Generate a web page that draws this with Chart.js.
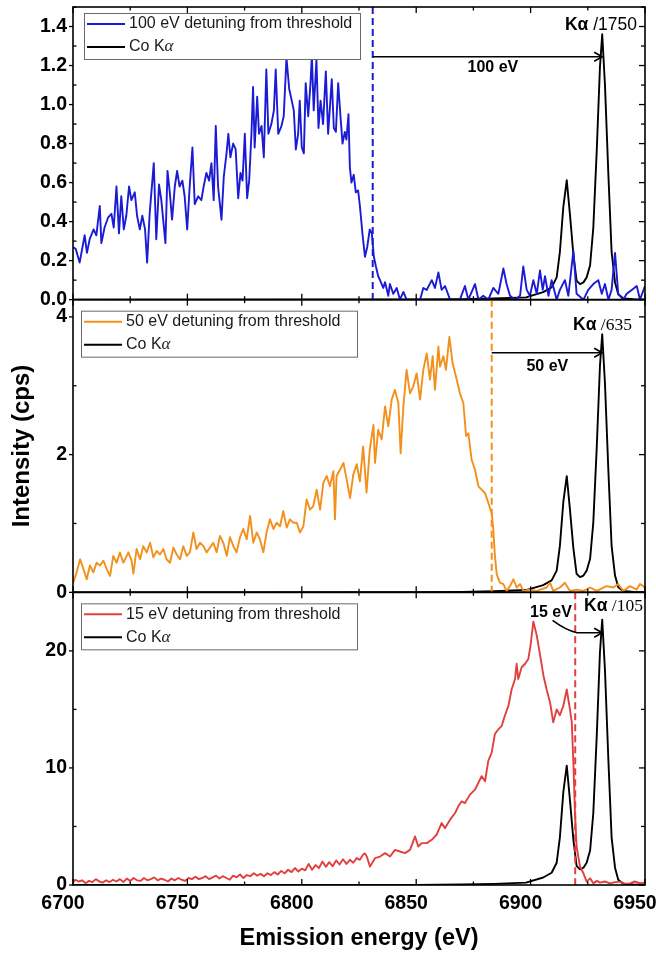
<!DOCTYPE html>
<html>
<head>
<meta charset="utf-8">
<script src="https://cdn.jsdelivr.net/npm/chart.js@4.4.1/dist/chart.umd.min.js"></script>
<style>
  html, body { margin: 0; padding: 0; background: #fff; }
</style>
</head>
<body>
<canvas id="chart" width="656" height="954"></canvas>
<script>
// [emission energy (eV), intensity (cps)]
const blue100 = [
  [6700.0,0.27],[6701.2,0.26],[6702.9,0.19],[6705.1,0.33],[6706.1,0.24],[6707.3,0.31],[6709.0,0.36],[6710.2,0.33],
  [6711.7,0.48],[6712.4,0.29],[6713.8,0.37],[6715.3,0.42],[6716.8,0.44],[6717.8,0.37],[6719.0,0.58],[6720.1,0.34],
  [6721.1,0.53],[6722.2,0.36],[6723.3,0.43],[6724.5,0.58],[6725.5,0.51],[6727.0,0.55],[6728.0,0.43],[6729.2,0.36],
  [6730.3,0.43],[6731.5,0.36],[6732.4,0.19],[6733.5,0.44],[6735.3,0.70],[6736.4,0.31],[6737.6,0.59],[6738.6,0.51],
  [6740.4,0.29],[6741.3,0.66],[6742.3,0.55],[6743.3,0.41],[6744.5,0.58],[6745.5,0.66],[6746.6,0.58],[6747.8,0.61],
  [6748.8,0.53],[6749.9,0.36],[6751.0,0.58],[6752.2,0.78],[6753.2,0.49],[6754.7,0.53],[6756.1,0.51],[6757.1,0.58],
  [6758.3,0.65],[6759.5,0.61],[6760.5,0.70],[6761.5,0.51],[6762.4,0.89],[6763.4,0.58],[6764.9,0.41],[6765.9,0.63],
  [6767.1,0.75],[6767.9,0.85],[6768.8,0.73],[6770.0,0.80],[6771.1,0.77],[6772.2,0.52],[6773.2,0.65],[6774.1,0.61],
  [6775.1,0.85],[6776.1,0.52],[6777.0,0.61],[6778.0,0.85],[6778.7,1.09],[6779.4,0.78],[6780.5,1.04],[6781.3,0.85],
  [6782.4,0.89],[6783.4,0.73],[6784.5,1.18],[6785.4,0.85],[6786.7,0.90],[6787.8,0.97],[6788.6,1.18],[6789.7,0.85],
  [6791.1,0.89],[6792.1,0.94],[6793.3,1.24],[6794.5,1.08],[6795.6,1.02],[6796.5,0.97],[6797.4,0.77],[6798.4,0.85],
  [6799.1,1.02],[6800.0,0.78],[6800.9,0.75],[6801.7,1.11],[6802.8,0.94],[6803.8,1.11],[6804.4,1.25],[6805.2,0.97],
  [6806.4,1.23],[6807.3,0.88],[6808.2,1.02],[6809.3,0.90],[6810.5,1.17],[6811.5,0.85],[6812.2,0.97],[6813.1,1.13],
  [6814.0,0.88],[6814.9,0.86],[6815.9,1.11],[6816.9,0.94],[6817.8,0.80],[6818.8,0.86],[6819.5,0.82],[6820.4,0.95],
  [6821.0,0.68],[6821.7,0.60],[6822.7,0.64],[6823.6,0.55],[6824.6,0.56],[6825.4,0.48],[6826.5,0.34],[6827.6,0.22],
  [6828.6,0.27],[6829.7,0.36],[6830.6,0.34],[6831.5,0.22],[6832.4,0.17],[6833.4,0.12],[6834.2,0.10],[6835.6,0.06],
  [6836.4,0.09],[6837.8,0.02],[6838.5,0.08],[6840.0,0.03],[6841.5,0.06],[6842.9,0.00],[6844.4,0.04],[6845.8,0.00],
  [6851.7,0.00],[6853.1,0.06],[6854.6,0.05],[6856.8,0.10],[6858.2,0.06],[6859.7,0.14],[6861.1,0.05],[6862.6,0.07],
  [6864.8,0.00],[6869.1,0.00],[6871.3,0.07],[6872.8,0.00],[6875.7,0.08],[6877.2,0.00],[6879.3,0.02],[6881.5,0.00],
  [6883.7,0.06],[6885.9,0.03],[6888.1,0.16],[6889.5,0.08],[6891.0,0.02],[6893.2,0.00],[6895.4,0.02],[6896.8,0.17],
  [6898.3,0.05],[6899.7,0.02],[6901.2,0.10],[6902.7,0.03],[6904.1,0.15],[6905.3,0.05],[6906.3,0.12],[6907.8,0.02],
  [6909.2,0.10],[6911.4,0.00],[6912.8,0.05],[6915.0,0.10],[6916.5,0.02],[6918.7,0.25],[6920.1,0.03],[6923.1,0.00],
  [6925.2,0.05],[6927.4,0.08],[6929.6,0.10],[6931.1,0.03],[6932.5,0.08],[6934.0,0.00],[6935.4,0.05],[6936.9,0.24],
  [6938.3,0.03],[6940.5,0.00],[6942.0,0.03],[6944.2,0.05],[6946.4,0.07],[6947.8,0.00],[6950.0,0.07]
];

const orange50 = [
  [6700.1,0.14],[6701.6,0.29],[6703.1,0.48],[6704.5,0.34],[6706.0,0.19],[6707.4,0.39],[6708.9,0.29],[6710.3,0.43],
  [6711.8,0.39],[6713.3,0.46],[6714.7,0.34],[6716.2,0.24],[6717.6,0.53],[6719.1,0.43],[6720.5,0.58],[6722.0,0.43],
  [6724.2,0.58],[6725.6,0.46],[6726.4,0.27],[6727.8,0.63],[6729.3,0.48],[6730.7,0.67],[6732.2,0.58],[6733.7,0.72],
  [6735.1,0.51],[6736.6,0.60],[6738.0,0.55],[6739.5,0.63],[6740.9,0.48],[6742.4,0.43],[6743.9,0.65],[6745.3,0.55],
  [6746.8,0.48],[6748.2,0.67],[6749.7,0.53],[6751.1,0.58],[6752.6,0.87],[6754.0,0.63],[6755.5,0.72],[6757.0,0.67],
  [6758.4,0.58],[6759.9,0.65],[6761.3,0.72],[6762.8,0.58],[6764.2,0.82],[6765.7,0.72],[6767.2,0.53],[6768.6,0.80],
  [6770.1,0.67],[6771.5,0.58],[6773.0,0.80],[6774.4,0.92],[6775.9,0.77],[6777.4,1.11],[6778.8,0.72],[6780.3,0.87],
  [6781.7,0.77],[6783.2,0.58],[6784.6,0.87],[6786.1,1.06],[6787.6,0.92],[6789.0,1.01],[6790.5,0.96],[6791.9,1.18],
  [6793.4,0.94],[6794.8,1.06],[6796.3,1.01],[6797.8,1.01],[6799.2,0.87],[6800.7,0.96],[6802.1,1.35],[6803.6,1.20],
  [6805.0,1.25],[6806.5,1.49],[6808.0,1.20],[6809.4,1.59],[6810.9,1.69],[6812.3,1.54],[6813.8,1.76],[6814.5,1.06],
  [6815.2,1.69],[6816.7,1.78],[6818.2,1.88],[6819.6,1.64],[6821.1,1.37],[6822.5,1.71],[6824.0,1.86],[6825.4,1.61],
  [6826.8,2.12],[6828.3,1.45],[6829.7,2.07],[6831.3,2.43],[6832.0,1.88],[6833.4,2.36],[6834.9,2.22],[6836.4,2.70],
  [6837.8,2.41],[6839.3,2.80],[6840.7,2.94],[6842.2,2.75],[6843.2,2.02],[6844.4,2.70],[6845.8,3.23],[6847.3,2.89],
  [6848.7,2.99],[6850.2,3.18],[6851.7,2.80],[6853.1,3.23],[6854.6,3.47],[6856.0,3.09],[6857.2,3.43],[6858.2,2.94],
  [6859.7,3.57],[6860.4,3.28],[6861.9,3.43],[6863.0,3.23],[6864.5,3.71],[6865.9,3.33],[6867.7,3.09],[6869.1,2.89],
  [6870.6,2.75],[6871.8,2.27],[6872.8,2.31],[6874.2,1.93],[6875.7,1.78],[6877.2,1.54],[6878.6,1.49],[6880.1,1.44],
  [6881.5,1.30],[6883.0,1.15],[6883.7,0.91],[6884.4,0.53],[6885.2,0.26],[6886.6,0.14],[6888.1,0.12],[6889.5,0.02],
  [6891.0,0.09],[6892.5,0.19],[6893.9,0.07],[6895.4,0.12],[6896.8,0.02],[6899.7,0.04],[6902.7,0.02],[6907.0,0.07],
  [6908.5,0.14],[6909.9,0.02],[6912.8,0.07],[6915.0,0.14],[6917.2,0.02],[6920.1,0.04],[6923.1,0.02],[6926.0,0.07],
  [6928.9,0.02],[6933.2,0.09],[6936.2,0.07],[6938.3,0.12],[6940.5,0.02],[6943.4,0.09],[6946.4,0.04],[6947.8,0.12],
  [6950.0,0.07]
];

const red15 = [
  [6700.0,0.20],[6701.0,0.45],[6702.5,0.30],[6704.0,0.40],[6705.5,0.15],[6707.0,0.35],[6708.5,0.25],[6710.0,0.50],
  [6711.5,0.30],[6713.0,0.20],[6714.5,0.40],[6716.0,0.25],[6717.5,0.45],[6719.0,0.30],[6720.5,0.50],[6722.0,0.25],
  [6723.5,0.55],[6725.0,0.35],[6726.5,0.60],[6728.0,0.40],[6729.5,0.35],[6731.0,0.60],[6732.5,0.40],[6734.0,0.50],
  [6735.5,0.65],[6737.0,0.40],[6738.5,0.55],[6740.0,0.45],[6741.5,0.30],[6743.0,0.55],[6744.5,0.40],[6746.0,0.60],
  [6747.5,0.45],[6749.0,0.35],[6750.5,0.60],[6752.0,0.50],[6753.5,0.70],[6755.0,0.50],[6756.5,0.60],[6758.0,0.75],
  [6759.5,0.50],[6761.0,0.65],[6762.5,0.80],[6764.0,0.55],[6765.5,0.75],[6767.0,0.60],[6768.5,0.45],[6770.0,0.80],
  [6771.5,0.65],[6773.0,0.90],[6774.5,0.60],[6776.0,0.85],[6777.5,0.75],[6779.0,1.00],[6780.5,0.80],[6782.0,0.95],
  [6783.5,0.75],[6785.0,1.00],[6786.5,0.85],[6788.0,1.10],[6789.5,0.90],[6791.0,1.20],[6792.5,1.00],[6794.0,1.30],
  [6795.5,1.10],[6797.0,1.45],[6798.5,1.15],[6800.0,1.40],[6801.5,1.25],[6803.0,1.80],[6804.5,1.30],[6806.0,1.70],
  [6807.5,1.45],[6809.0,2.00],[6810.5,1.55],[6812.0,1.95],[6813.5,1.60],[6815.0,2.10],[6816.5,1.75],[6818.0,2.20],
  [6819.5,1.80],[6821.0,2.15],[6822.5,1.90],[6824.0,2.30],[6825.4,2.15],[6826.8,2.60],[6827.6,2.70],[6828.4,2.43],
  [6829.8,1.57],[6832.0,2.29],[6834.2,2.43],[6836.4,2.72],[6838.6,2.43],[6840.7,3.00],[6842.9,2.86],[6845.1,2.72],
  [6847.3,3.00],[6849.5,4.15],[6850.9,3.29],[6852.4,3.58],[6854.6,3.58],[6856.8,3.86],[6858.9,4.29],[6861.1,5.29],
  [6862.6,4.86],[6864.8,5.58],[6867.0,6.15],[6868.4,6.72],[6869.9,7.15],[6871.3,7.00],[6873.5,7.72],[6875.7,8.15],
  [6877.2,8.73],[6878.6,9.30],[6880.1,8.87],[6881.5,10.6],[6883.0,11.3],[6884.4,12.9],[6885.9,13.3],[6887.4,13.6],
  [6888.8,14.5],[6890.3,15.3],[6891.7,16.7],[6893.2,17.6],[6893.9,18.9],[6894.6,17.6],[6896.1,18.6],[6897.6,18.9],
  [6899.0,19.3],[6900.0,20.5],[6901.2,22.5],[6902.7,21.3],[6904.1,19.7],[6905.6,17.9],[6907.0,16.7],[6908.5,15.6],
  [6909.9,13.9],[6911.4,15.0],[6912.8,14.5],[6914.3,15.3],[6915.8,16.7],[6917.2,15.0],[6918.0,13.9],[6918.7,10.4],
  [6919.4,6.15],[6920.1,3.29],[6921.6,1.57],[6923.1,1.00],[6924.5,0.29],[6926.0,0.57],[6927.4,0.14],[6929.0,0.35],
  [6930.3,0.20],[6932.5,0.30],[6934.7,0.14],[6937.0,0.25],[6939.1,0.29],[6941.2,0.12],[6943.4,0.14],[6945.5,0.30],
  [6947.7,0.15],[6950.0,0.20]
];

// Co K-alpha reference spectrum (cps), shown divided by kaDivisor in each panel
const coKalpha = [
  [6700,0],[6850,1],[6870,4],[6884,10],[6898,21],[6905.5,67],[6909.2,110],[6911.4,200],[6912.8,428],
  [6914.3,833],[6915.8,1071],[6917.2,762],[6918.7,405],[6920.1,171],[6921.6,140],[6923.1,155],[6924.5,200],
  [6926.0,309],[6927.4,643],[6928.9,1333],[6930.3,2083],[6931.3,2380],[6932.5,1928],[6934.0,1119],[6935.4,428],
  [6936.9,155],[6938.3,48],[6940.5,12],[6945,4],[6950,2]
];

const spectra = [blue100, orange50, red15];
const seriesLabels = ['100 eV detuning from threshold', '50 eV detuning from threshold', '15 eV detuning from threshold'];
const kaDivisor = [1750, 635, 105];
const thresholdEnergy = [6831, 6883, 6919.5];
const gapLabels = ['100 eV', '50 eV', '15 eV'];
const kaPeakEnergy = 6931.3;

const SANS = '"Liberation Sans", Arial, sans-serif';
const SERIF = '"Liberation Serif", "Times New Roman", serif';

// per panel look: axis id, colour, y range, label anchors (data units)
const panelStyle = [
  { axis: 'y1', color: '#1b1bd6', max: 1.5, major: 0.2, minor: 0.1, digits: 1,
    legend: [11, 6], kaFont: SANS, kaAt: [6946.5, 1.405], gapAt: [6883.5, 1.19],
    arrow: [[6831, 1.245], [kaPeakEnergy, 1.245]] },
  { axis: 'y2', color: '#f3901b', max: 4.25, major: 2, minor: 1, digits: 0,
    legend: [8, 11], kaFont: SERIF, kaAt: [6944.3, 3.88], gapAt: [6907.3, 3.28],
    arrow: [[6883, 3.48], [kaPeakEnergy, 3.48]] },
  { axis: 'y3', color: '#e2403f', max: 25, major: 10, minor: 5, digits: 0,
    legend: [8, 11], kaFont: SERIF, kaAt: [6949.1, 23.8], gapAt: [6908.9, 23.3],
    arrow: [[6909.6, 22.6], [6920.3, 21.55], [kaPeakEnergy, 21.55]] }
];

const datasets = [];
panelStyle.forEach((p, i) => {
  datasets.push({
    label: seriesLabels[i],
    data: spectra[i].map(d => ({ x: d[0], y: d[1] })),
    yAxisID: p.axis, borderColor: p.color, borderWidth: 1.9
  });
  datasets.push({
    label: 'Co K\u03b1',
    data: coKalpha.map(d => ({ x: d[0], y: d[1] / kaDivisor[i] })),
    yAxisID: p.axis, borderColor: '#000', borderWidth: 1.9
  });
});

const scales = {
  x: {
    type: 'linear', position: 'bottom', min: 6700, max: 6950,
    grid: { display: false, drawTicks: false },
    border: { display: false },
    ticks: {
      stepSize: 50, autoSkip: false, padding: 6.5, labelOffset: -10, maxRotation: 0,
      color: '#000', font: { family: SANS, size: 19.5, weight: 'bold' },
      callback: v => String(v)
    },
    title: {
      display: true, text: 'Emission energy (eV)', color: '#000',
      font: { family: SANS, size: 23.5, weight: 'bold' }, padding: { top: 0, bottom: 1.3 }
    },
    afterFit: s => { s.height = 69; s.paddingLeft = 0; s.paddingRight = 0; }
  }
};
// left axes of one stack; the last one listed sits at the top
[2, 1, 0].forEach(i => {
  const p = panelStyle[i];
  scales[p.axis] = {
    type: 'linear', position: 'left', stack: 'panels', stackWeight: 1,
    min: 0, max: p.max,
    grid: { display: false, drawTicks: false },
    border: { display: false },
    ticks: {
      stepSize: p.major, includeBounds: false, autoSkip: false, padding: 6,
      color: '#000', font: { family: SANS, size: 19.5, weight: 'bold' },
      callback: v => Number(v).toFixed(p.digits)
    },
    title: {
      display: i === 1, text: 'Intensity (cps)', color: '#000',
      font: { family: SANS, size: 24, weight: 'bold' }, padding: { top: 8, bottom: 0 }
    },
    afterFit: s => { s.width = 73; s.paddingTop = 0; s.paddingBottom = 0; }
  };
});

function line(ctx, x1, y1, x2, y2) {
  ctx.beginPath(); ctx.moveTo(x1, y1); ctx.lineTo(x2, y2); ctx.stroke();
}

function arrowHead(ctx, x, y) {
  ctx.beginPath();
  ctx.moveTo(x - 8, y - 4.5); ctx.lineTo(x, y); ctx.lineTo(x - 8, y + 4.5);
  ctx.stroke();
}

const panelDecor = {
  id: 'panelDecor',
  afterDatasetsDraw(chart) {
    const ctx = chart.ctx, xs = chart.scales.x;
    const L = xs.left, R = xs.right;
    ctx.save();
    panelStyle.forEach((p, i) => {
      const ys = chart.scales[p.axis];
      const T = ys.top, B = ys.bottom;
      const px = v => xs.getPixelForValue(v), py = v => ys.getPixelForValue(v);

      // threshold marker
      ctx.strokeStyle = p.color; ctx.lineWidth = 2; ctx.setLineDash([7, 4]);
      line(ctx, px(thresholdEnergy[i]), T, px(thresholdEnergy[i]), B);
      ctx.setLineDash([]);

      // frame and ticks
      ctx.strokeStyle = '#000'; ctx.lineWidth = 1.6;
      ctx.strokeRect(L, T, R - L, B - T);
      ctx.lineWidth = 1.3;
      for (let e = 6700; e <= 6950; e += 25) {
        const len = e % 50 === 0 ? 6 : 3.5;
        line(ctx, px(e), B, px(e), B - len);
        line(ctx, px(e), T, px(e), T + len);
      }
      const steps = Math.round(p.max / p.minor);
      const ratio = Math.round(p.major / p.minor);
      for (let k = 0; k <= steps; k++) {
        const y = py(k * p.minor);
        if (k % ratio === 0) {
          line(ctx, L, y, L - 4, y);
          line(ctx, R, y, R - 6, y);
        } else {
          line(ctx, L, y, L + 3.5, y);
          line(ctx, R, y, R - 4, y);
        }
      }

      // arrow from threshold to the K-alpha1 line
      ctx.lineWidth = 1.6;
      const pts = p.arrow.map(a => [px(a[0]), py(a[1])]);
      ctx.beginPath();
      ctx.moveTo(pts[0][0], pts[0][1]);
      if (pts.length === 3) {
        ctx.quadraticCurveTo(pts[0][0] + 14, pts[1][1] - 2, pts[1][0], pts[1][1]);
      }
      ctx.lineTo(pts[pts.length - 1][0], pts[pts.length - 1][1]);
      ctx.stroke();
      const tip = pts[pts.length - 1];
      arrowHead(ctx, tip[0], tip[1]);

      ctx.fillStyle = '#000';
      ctx.textBaseline = 'middle';
      ctx.textAlign = 'center';
      ctx.font = 'bold 16px ' + SANS;
      ctx.fillText(gapLabels[i], px(p.gapAt[0]), py(p.gapAt[1]));

      // "Ka /divisor" tag, right aligned
      const kaBold = 'bold 17.5px ' + SANS, kaNorm = '17.5px ' + p.kaFont;
      const tail = ' /' + kaDivisor[i];
      ctx.font = kaNorm; const wTail = ctx.measureText(tail).width;
      ctx.font = kaBold; const wHead = ctx.measureText('K\u03b1').width;
      const xr = px(p.kaAt[0]), yk = py(p.kaAt[1]);
      ctx.textAlign = 'left';
      ctx.fillText('K\u03b1', xr - wTail - wHead, yk);
      ctx.font = kaNorm;
      ctx.fillText(tail, xr - wTail, yk);

      // legend box
      const bx = L + p.legend[0], by = T + p.legend[1], bw = 276, bh = 46;
      ctx.fillStyle = '#fff';
      ctx.fillRect(bx, by, bw, bh);
      ctx.strokeStyle = '#6a6a6a'; ctx.lineWidth = 1;
      ctx.strokeRect(bx + 0.5, by + 0.5, bw, bh);
      const rows = chart.data.datasets.filter(d => d.yAxisID === p.axis);
      rows.forEach((d, r) => {
        const yy = by + 11 + r * 23;
        ctx.strokeStyle = d.borderColor; ctx.lineWidth = 2;
        line(ctx, bx + 3, yy, bx + 41, yy);
        ctx.fillStyle = '#1a1a1a';
        ctx.font = '16px ' + SANS;
        if (r === 0) {
          ctx.fillText(d.label, bx + 45, yy);
        } else {
          ctx.fillText('Co K', bx + 45, yy);
          const w = ctx.measureText('Co K').width;
          ctx.font = 'italic 17px ' + SERIF;
          ctx.fillText('\u03b1', bx + 45 + w, yy);
        }
      });
    });
    ctx.restore();
  }
};

new Chart(document.getElementById('chart'), {
  type: 'line',
  data: { datasets },
  options: {
    responsive: false,
    animation: false,
    devicePixelRatio: 1,
    parsing: true,
    layout: { padding: { left: 0, right: 11, top: 7, bottom: 0 } },
    elements: { point: { radius: 0 }, line: { tension: 0, borderJoinStyle: 'round' } },
    plugins: { legend: { display: false }, tooltip: { enabled: false } },
    scales
  },
  plugins: [panelDecor]
});
</script>
</body>
</html>
